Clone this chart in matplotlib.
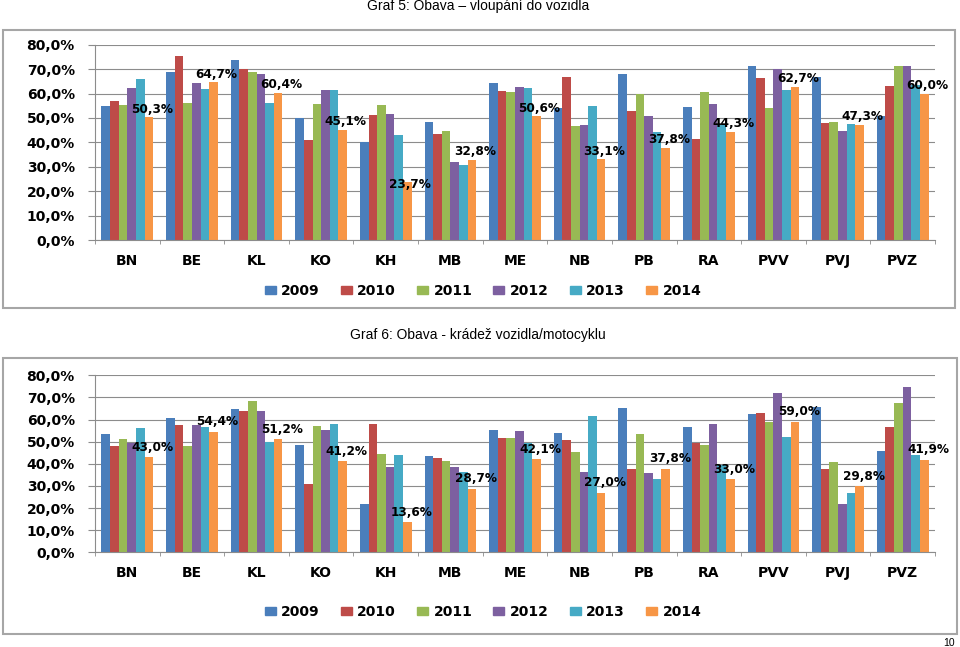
import matplotlib.pyplot as plt
from matplotlib.patches import Rectangle, Patch
from matplotlib.ticker import FuncFormatter

plt.rcParams['font.family'] = ['DejaVu Sans']

# kategorie (okresy) a roky
kraje = ['BN', 'BE', 'KL', 'KO', 'KH', 'MB', 'ME', 'NB', 'PB', 'RA', 'PVV', 'PVJ', 'PVZ']
roky = ['2009', '2010', '2011', '2012', '2013', '2014']
barvy = ['#4A7EBB', '#BE4B48', '#98B954', '#7D60A0', '#46AAC5', '#F79646']

# Graf 5: Obava - vloupani do vozidla (v %)
g5_2009 = [54.9, 68.8, 73.7, 50.1, 40.1, 48.2, 64.3, 54.2, 68.1, 54.3, 71.4, 66.8, 50.6]
g5_2010 = [57.1, 75.2, 70.2, 41.1, 51.3, 43.5, 61.0, 66.8, 52.7, 41.2, 66.3, 47.9, 63.1]
g5_2011 = [55.3, 56.0, 68.8, 55.7, 55.2, 44.5, 60.8, 46.6, 59.9, 60.6, 53.9, 48.5, 71.1]
g5_2012 = [62.3, 64.2, 68.1, 61.3, 51.6, 31.8, 62.5, 47.0, 50.6, 55.7, 70.2, 44.8, 71.3]
g5_2013 = [65.8, 62.0, 56.0, 61.6, 43.1, 30.9, 62.3, 54.9, 44.1, 47.1, 61.3, 47.4, 63.5]
g5_2014 = [50.3, 64.7, 60.4, 45.1, 23.7, 32.8, 50.6, 33.1, 37.8, 44.3, 62.7, 47.3, 60.0]

# Graf 6: Obava - kradez vozidla/motocyklu (v %)
g6_2009 = [53.6, 60.8, 64.6, 48.5, 22.0, 43.7, 55.4, 54.1, 65.2, 56.8, 62.5, 65.7, 45.9]
g6_2010 = [47.9, 57.4, 63.7, 31.0, 58.1, 42.5, 51.5, 50.9, 37.8, 49.2, 62.9, 37.8, 56.8]
g6_2011 = [51.2, 47.9, 68.4, 56.9, 44.4, 41.3, 51.5, 45.3, 53.6, 48.5, 59.0, 40.7, 67.3]
g6_2012 = [49.2, 57.4, 63.9, 55.3, 38.6, 38.6, 54.8, 36.1, 35.7, 58.1, 72.1, 21.8, 74.8]
g6_2013 = [56.0, 56.8, 49.8, 58.1, 44.0, 36.1, 49.4, 61.6, 33.0, 39.5, 52.3, 26.7, 44.0]
g6_2014 = [43.0, 54.4, 51.2, 41.2, 13.6, 28.7, 42.1, 27.0, 37.8, 33.0, 59.0, 29.8, 41.9]

# posun popisku nad sloupcem 2014 (v pixelech)
g5_posun = [8, 8, 8, 8, -2, 8, 8, 8, 8, 8, 8, 8, 8]
g6_posun = [10] * 13

sirka = 1 / 7.5
seda = '#8C8C8C'
px = 0.72  # 1 px v bodech pri dpi 100


def procenta(v, pos=None):
    return f'{v:.1f}%'.replace('.', ',')


def kresli_graf(ax, rady, posun, dx):
    x = list(range(len(kraje)))
    for i, (hodnoty, barva) in enumerate(zip(rady, barvy)):
        ax.bar([k + (i - 2.5) * sirka for k in x], hodnoty, width=sirka,
               color=barva, zorder=2)
    # popisky jen u roku 2014
    for k, v in enumerate(rady[-1]):
        ax.annotate(procenta(v), xy=(k + 2.5 * sirka, v),
                    xytext=(dx * px, posun[k] * px), textcoords='offset points',
                    ha='center', va='center', fontsize=8.7, fontweight='bold',
                    zorder=3)

    ax.set_xlim(-0.5, len(kraje) - 0.5)
    ax.set_ylim(0, 80)
    ax.set_yticks(range(0, 81, 10))
    ax.yaxis.set_major_formatter(FuncFormatter(procenta))
    ax.set_xticks(x)
    ax.set_xticklabels(kraje, fontsize=10, fontweight='bold')
    ax.set_xticks([k - 0.5 for k in range(len(kraje) + 1)], minor=True)
    ax.tick_params(axis='x', which='major', length=0, pad=10)
    ax.tick_params(axis='x', which='minor', length=3, color=seda, direction='out')
    ax.tick_params(axis='y', length=5, color=seda, pad=9.5)
    for t in ax.get_yticklabels():
        t.set_fontsize(10)
        t.set_fontweight('bold')
    ax.grid(axis='y', color=seda, linewidth=0.8)
    ax.set_axisbelow(True)
    for s in ['top', 'right']:
        ax.spines[s].set_visible(False)
    for s in ['left', 'bottom']:
        ax.spines[s].set_color(seda)
        ax.spines[s].set_linewidth(0.8)


fig = plt.figure(figsize=(9.6, 6.47), dpi=100)
W, H = 960, 647

# ramecky kolem grafu
for (x0, y0, x1, y1) in [(3, 30, 955, 308), (3, 358, 957, 634)]:
    fig.add_artist(Rectangle((x0 / W, 1 - y1 / H), (x1 - x0) / W, (y1 - y0) / H,
                             transform=fig.transFigure, fill=False,
                             edgecolor='#A6A6A6', linewidth=1.5))

ax1 = fig.add_axes([95 / W, 1 - 240 / H, 840 / W, (240 - 44.7) / H])
kresli_graf(ax1, [g5_2009, g5_2010, g5_2011, g5_2012, g5_2013, g5_2014], g5_posun, 3)

ax2 = fig.add_axes([95 / W, 1 - 552.3 / H, 840 / W, (552.3 - 375.3) / H])
kresli_graf(ax2, [g6_2009, g6_2010, g6_2011, g6_2012, g6_2013, g6_2014], g6_posun, 4)

fig.text(478 / W, 1 - 6 / H, 'Graf 5: Obava – vloupání do vozidla', ha='center',
         va='center', fontsize=10, family='Liberation Sans')
fig.text(478 / W, 1 - 335 / H, 'Graf 6: Obava - krádež vozidla/motocyklu', ha='center',
         va='center', fontsize=10, family='Liberation Sans')
fig.text(955 / W, 1 - 643 / H, '10', ha='right', va='center', fontsize=7.5,
         family='Liberation Sans')

# legendy
handles = [Patch(color=b, label=r) for b, r in zip(barvy, roky)]
for yc in [291, 612]:
    fig.legend(handles=handles, loc='center', bbox_to_anchor=(483 / W, 1 - yc / H),
               ncol=6, frameon=False, handlelength=0.8, handleheight=0.45,
               handletextpad=0.4, columnspacing=1.5,
               prop={'size': 10, 'weight': 'bold'})

fig.savefig('out.png', dpi=100)
